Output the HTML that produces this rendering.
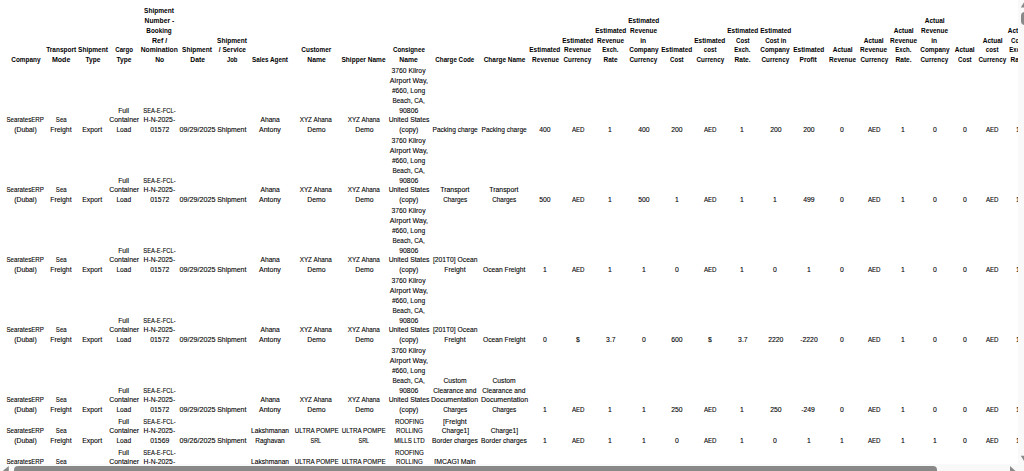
<!DOCTYPE html>
<html><head><meta charset="utf-8"><style>
html,body{margin:0;padding:0;background:#fff;width:1024px;height:471px;overflow:hidden}
body{position:relative;font-family:"Liberation Sans",sans-serif;color:#000}
#t{position:absolute;left:0;top:0;width:1018px;height:464px;overflow:hidden}
.r,.b{position:absolute;width:100px;text-align:center;white-space:nowrap;font-size:7px;line-height:9.82px}
.b{font-weight:bold}
.r{-webkit-text-stroke:0.1px #000}
.r span,.b span{display:inline-block}
#vs{position:absolute;left:1018px;top:0;width:6px;height:464px;background:#f9f9f9}
#hs{position:absolute;left:0;top:464px;width:1018px;height:7px;background:#f9f9f9}
#corner{position:absolute;left:1018px;top:464px;width:6px;height:7px;background:#f9f9f9}
#vth{position:absolute;left:1021px;top:12px;width:8px;height:12.6px;border-radius:4px;background:#898989}
#hth{position:absolute;left:14px;top:466.3px;width:923px;height:8px;border-radius:4px;background:#898989}
</style></head><body>
<div id="t">
<div class="b" style="left:-24.4px;top:55.20px"><span style="transform:scaleX(0.918)">Company</span></div>
<div class="b" style="left:10.9px;top:45.38px"><span style="transform:scaleX(0.925)">Transport</span><br><span style="transform:scaleX(1.006)">Mode</span></div>
<div class="b" style="left:42.5px;top:45.38px"><span style="transform:scaleX(0.937)">Shipment</span><br><span style="transform:scaleX(0.938)">Type</span></div>
<div class="b" style="left:74.0px;top:45.38px"><span style="transform:scaleX(0.878)">Cargo</span><br><span style="transform:scaleX(0.938)">Type</span></div>
<div class="b" style="left:109.3px;top:6.10px"><span style="transform:scaleX(0.937)">Shipment</span><br><span style="transform:scaleX(0.961)">Number -</span><br><span style="transform:scaleX(0.903)">Booking</span><br><span style="transform:scaleX(0.997)">Ref /</span><br><span style="transform:scaleX(0.962)">Nomination</span><br><span style="transform:scaleX(0.962)">No</span></div>
<div class="b" style="left:147.3px;top:45.38px"><span style="transform:scaleX(0.937)">Shipment</span><br><span style="transform:scaleX(0.965)">Date</span></div>
<div class="b" style="left:182.1px;top:35.56px"><span style="transform:scaleX(0.937)">Shipment</span><br><span style="transform:scaleX(0.947)">/ Service</span><br><span style="transform:scaleX(0.847)">Job</span></div>
<div class="b" style="left:220.0px;top:55.20px"><span style="transform:scaleX(0.902)">Sales Agent</span></div>
<div class="b" style="left:266.2px;top:45.38px"><span style="transform:scaleX(0.918)">Customer</span><br><span style="transform:scaleX(0.971)">Name</span></div>
<div class="b" style="left:314.0px;top:55.20px"><span style="transform:scaleX(0.937)">Shipper Name</span></div>
<div class="b" style="left:359.0px;top:45.38px"><span style="transform:scaleX(0.894)">Consignee</span><br><span style="transform:scaleX(0.971)">Name</span></div>
<div class="b" style="left:405.0px;top:55.20px"><span style="transform:scaleX(0.896)">Charge Code</span></div>
<div class="b" style="left:454.2px;top:55.20px"><span style="transform:scaleX(0.925)">Charge Name</span></div>
<div class="b" style="left:495.1px;top:45.38px"><span style="transform:scaleX(0.926)">Estimated</span><br><span style="transform:scaleX(0.923)">Revenue</span></div>
<div class="b" style="left:527.8px;top:35.56px"><span style="transform:scaleX(0.926)">Estimated</span><br><span style="transform:scaleX(0.923)">Revenue</span><br><span style="transform:scaleX(0.902)">Currency</span></div>
<div class="b" style="left:560.4px;top:25.74px"><span style="transform:scaleX(0.926)">Estimated</span><br><span style="transform:scaleX(0.923)">Revenue</span><br><span style="transform:scaleX(0.862)">Exch.</span><br><span style="transform:scaleX(0.931)">Rate</span></div>
<div class="b" style="left:593.6px;top:15.92px"><span style="transform:scaleX(0.926)">Estimated</span><br><span style="transform:scaleX(0.923)">Revenue</span><br><span style="transform:scaleX(0.942)">in</span><br><span style="transform:scaleX(0.918)">Company</span><br><span style="transform:scaleX(0.902)">Currency</span></div>
<div class="b" style="left:627.1px;top:45.38px"><span style="transform:scaleX(0.926)">Estimated</span><br><span style="transform:scaleX(0.868)">Cost</span></div>
<div class="b" style="left:659.9px;top:35.56px"><span style="transform:scaleX(0.926)">Estimated</span><br><span style="transform:scaleX(0.879)">cost</span><br><span style="transform:scaleX(0.902)">Currency</span></div>
<div class="b" style="left:692.4px;top:25.74px"><span style="transform:scaleX(0.926)">Estimated</span><br><span style="transform:scaleX(0.868)">Cost</span><br><span style="transform:scaleX(0.862)">Exch.</span><br><span style="transform:scaleX(0.943)">Rate.</span></div>
<div class="b" style="left:725.4px;top:25.74px"><span style="transform:scaleX(0.926)">Estimated</span><br><span style="transform:scaleX(0.888)">Cost in</span><br><span style="transform:scaleX(0.918)">Company</span><br><span style="transform:scaleX(0.902)">Currency</span></div>
<div class="b" style="left:758.5px;top:45.38px"><span style="transform:scaleX(0.926)">Estimated</span><br><span style="transform:scaleX(0.950)">Profit</span></div>
<div class="b" style="left:792.4px;top:45.38px"><span style="transform:scaleX(0.928)">Actual</span><br><span style="transform:scaleX(0.923)">Revenue</span></div>
<div class="b" style="left:824.0px;top:35.56px"><span style="transform:scaleX(0.928)">Actual</span><br><span style="transform:scaleX(0.923)">Revenue</span><br><span style="transform:scaleX(0.902)">Currency</span></div>
<div class="b" style="left:853.3px;top:25.74px"><span style="transform:scaleX(0.928)">Actual</span><br><span style="transform:scaleX(0.923)">Revenue</span><br><span style="transform:scaleX(0.862)">Exch.</span><br><span style="transform:scaleX(0.943)">Rate.</span></div>
<div class="b" style="left:884.5px;top:15.92px"><span style="transform:scaleX(0.928)">Actual</span><br><span style="transform:scaleX(0.923)">Revenue</span><br><span style="transform:scaleX(0.942)">in</span><br><span style="transform:scaleX(0.918)">Company</span><br><span style="transform:scaleX(0.902)">Currency</span></div>
<div class="b" style="left:914.7px;top:45.38px"><span style="transform:scaleX(0.928)">Actual</span><br><span style="transform:scaleX(0.868)">Cost</span></div>
<div class="b" style="left:942.5px;top:35.56px"><span style="transform:scaleX(0.928)">Actual</span><br><span style="transform:scaleX(0.879)">cost</span><br><span style="transform:scaleX(0.902)">Currency</span></div>
<div class="b" style="left:967.8px;top:25.74px"><span style="transform:scaleX(0.928)">Actual</span><br><span style="transform:scaleX(0.868)">Cost</span><br><span style="transform:scaleX(0.862)">Exch.</span><br><span style="transform:scaleX(0.931)">Rate</span></div>
<div class="r" style="left:-24.4px;top:115.38px"><span style="transform:scaleX(0.883)">SearatesERP</span><br><span style="transform:scaleX(0.974)">(Dubai)</span></div>
<div class="r" style="left:10.9px;top:115.38px"><span style="transform:scaleX(0.865)">Sea</span><br><span style="transform:scaleX(0.978)">Freight</span></div>
<div class="r" style="left:42.5px;top:125.20px"><span style="transform:scaleX(0.985)">Export</span></div>
<div class="r" style="left:74.0px;top:105.56px"><span style="transform:scaleX(0.961)">Full</span><br><span style="transform:scaleX(0.984)">Container</span><br><span style="transform:scaleX(0.941)">Load</span></div>
<div class="r" style="left:109.3px;top:105.56px"><span style="transform:scaleX(0.830)">SEA-E-FCL-</span><br><span style="transform:scaleX(0.967)">H-N-2025-</span><br><span style="transform:scaleX(0.977)">01572</span></div>
<div class="r" style="left:147.3px;top:125.20px"><span style="transform:scaleX(1.033)">09/29/2025</span></div>
<div class="r" style="left:182.1px;top:125.20px"><span style="transform:scaleX(0.986)">Shipment</span></div>
<div class="r" style="left:220.0px;top:115.38px"><span style="transform:scaleX(0.958)">Ahana</span><br><span style="transform:scaleX(1.001)">Antony</span></div>
<div class="r" style="left:266.2px;top:115.38px"><span style="transform:scaleX(0.907)">XYZ Ahana</span><br><span style="transform:scaleX(0.979)">Demo</span></div>
<div class="r" style="left:314.0px;top:115.38px"><span style="transform:scaleX(0.907)">XYZ Ahana</span><br><span style="transform:scaleX(0.979)">Demo</span></div>
<div class="r" style="left:359.0px;top:66.28px"><span style="transform:scaleX(0.972)">3760 Kilroy</span><br><span style="transform:scaleX(1.007)">Airport Way,</span><br><span style="transform:scaleX(0.950)">#660, Long</span><br><span style="transform:scaleX(0.914)">Beach, CA,</span><br><span style="transform:scaleX(0.977)">90806</span><br><span style="transform:scaleX(0.970)">United States</span><br><span style="transform:scaleX(0.973)">(copy)</span></div>
<div class="r" style="left:405.0px;top:125.20px"><span style="transform:scaleX(0.937)">Packing charge</span></div>
<div class="r" style="left:454.2px;top:125.20px"><span style="transform:scaleX(0.937)">Packing charge</span></div>
<div class="r" style="left:495.1px;top:125.20px"><span style="transform:scaleX(0.976)">400</span></div>
<div class="r" style="left:527.8px;top:125.20px"><span style="transform:scaleX(0.876)">AED</span></div>
<div class="r" style="left:560.4px;top:125.20px"><span style="transform:scaleX(0.976)">1</span></div>
<div class="r" style="left:593.6px;top:125.20px"><span style="transform:scaleX(0.976)">400</span></div>
<div class="r" style="left:627.1px;top:125.20px"><span style="transform:scaleX(0.976)">200</span></div>
<div class="r" style="left:659.9px;top:125.20px"><span style="transform:scaleX(0.876)">AED</span></div>
<div class="r" style="left:692.4px;top:125.20px"><span style="transform:scaleX(0.976)">1</span></div>
<div class="r" style="left:725.4px;top:125.20px"><span style="transform:scaleX(0.976)">200</span></div>
<div class="r" style="left:758.5px;top:125.20px"><span style="transform:scaleX(0.976)">200</span></div>
<div class="r" style="left:792.4px;top:125.20px"><span style="transform:scaleX(0.976)">0</span></div>
<div class="r" style="left:824.0px;top:125.20px"><span style="transform:scaleX(0.876)">AED</span></div>
<div class="r" style="left:853.3px;top:125.20px"><span style="transform:scaleX(0.976)">1</span></div>
<div class="r" style="left:884.5px;top:125.20px"><span style="transform:scaleX(0.976)">0</span></div>
<div class="r" style="left:914.7px;top:125.20px"><span style="transform:scaleX(0.976)">0</span></div>
<div class="r" style="left:942.5px;top:125.20px"><span style="transform:scaleX(0.876)">AED</span></div>
<div class="r" style="left:967.8px;top:125.20px"><span style="transform:scaleX(0.976)">1</span></div>
<div class="r" style="left:-24.4px;top:185.38px"><span style="transform:scaleX(0.883)">SearatesERP</span><br><span style="transform:scaleX(0.974)">(Dubai)</span></div>
<div class="r" style="left:10.9px;top:185.38px"><span style="transform:scaleX(0.865)">Sea</span><br><span style="transform:scaleX(0.978)">Freight</span></div>
<div class="r" style="left:42.5px;top:195.20px"><span style="transform:scaleX(0.985)">Export</span></div>
<div class="r" style="left:74.0px;top:175.56px"><span style="transform:scaleX(0.961)">Full</span><br><span style="transform:scaleX(0.984)">Container</span><br><span style="transform:scaleX(0.941)">Load</span></div>
<div class="r" style="left:109.3px;top:175.56px"><span style="transform:scaleX(0.830)">SEA-E-FCL-</span><br><span style="transform:scaleX(0.967)">H-N-2025-</span><br><span style="transform:scaleX(0.977)">01572</span></div>
<div class="r" style="left:147.3px;top:195.20px"><span style="transform:scaleX(1.033)">09/29/2025</span></div>
<div class="r" style="left:182.1px;top:195.20px"><span style="transform:scaleX(0.986)">Shipment</span></div>
<div class="r" style="left:220.0px;top:185.38px"><span style="transform:scaleX(0.958)">Ahana</span><br><span style="transform:scaleX(1.001)">Antony</span></div>
<div class="r" style="left:266.2px;top:185.38px"><span style="transform:scaleX(0.907)">XYZ Ahana</span><br><span style="transform:scaleX(0.979)">Demo</span></div>
<div class="r" style="left:314.0px;top:185.38px"><span style="transform:scaleX(0.907)">XYZ Ahana</span><br><span style="transform:scaleX(0.979)">Demo</span></div>
<div class="r" style="left:359.0px;top:136.28px"><span style="transform:scaleX(0.972)">3760 Kilroy</span><br><span style="transform:scaleX(1.007)">Airport Way,</span><br><span style="transform:scaleX(0.950)">#660, Long</span><br><span style="transform:scaleX(0.914)">Beach, CA,</span><br><span style="transform:scaleX(0.977)">90806</span><br><span style="transform:scaleX(0.970)">United States</span><br><span style="transform:scaleX(0.973)">(copy)</span></div>
<div class="r" style="left:405.0px;top:185.38px"><span style="transform:scaleX(0.981)">Transport</span><br><span style="transform:scaleX(0.914)">Charges</span></div>
<div class="r" style="left:454.2px;top:185.38px"><span style="transform:scaleX(0.981)">Transport</span><br><span style="transform:scaleX(0.914)">Charges</span></div>
<div class="r" style="left:495.1px;top:195.20px"><span style="transform:scaleX(0.976)">500</span></div>
<div class="r" style="left:527.8px;top:195.20px"><span style="transform:scaleX(0.876)">AED</span></div>
<div class="r" style="left:560.4px;top:195.20px"><span style="transform:scaleX(0.976)">1</span></div>
<div class="r" style="left:593.6px;top:195.20px"><span style="transform:scaleX(0.976)">500</span></div>
<div class="r" style="left:627.1px;top:195.20px"><span style="transform:scaleX(0.976)">1</span></div>
<div class="r" style="left:659.9px;top:195.20px"><span style="transform:scaleX(0.876)">AED</span></div>
<div class="r" style="left:692.4px;top:195.20px"><span style="transform:scaleX(0.976)">1</span></div>
<div class="r" style="left:725.4px;top:195.20px"><span style="transform:scaleX(0.976)">1</span></div>
<div class="r" style="left:758.5px;top:195.20px"><span style="transform:scaleX(0.976)">499</span></div>
<div class="r" style="left:792.4px;top:195.20px"><span style="transform:scaleX(0.976)">0</span></div>
<div class="r" style="left:824.0px;top:195.20px"><span style="transform:scaleX(0.876)">AED</span></div>
<div class="r" style="left:853.3px;top:195.20px"><span style="transform:scaleX(0.976)">1</span></div>
<div class="r" style="left:884.5px;top:195.20px"><span style="transform:scaleX(0.976)">0</span></div>
<div class="r" style="left:914.7px;top:195.20px"><span style="transform:scaleX(0.976)">0</span></div>
<div class="r" style="left:942.5px;top:195.20px"><span style="transform:scaleX(0.876)">AED</span></div>
<div class="r" style="left:967.8px;top:195.20px"><span style="transform:scaleX(0.976)">1</span></div>
<div class="r" style="left:-24.4px;top:255.38px"><span style="transform:scaleX(0.883)">SearatesERP</span><br><span style="transform:scaleX(0.974)">(Dubai)</span></div>
<div class="r" style="left:10.9px;top:255.38px"><span style="transform:scaleX(0.865)">Sea</span><br><span style="transform:scaleX(0.978)">Freight</span></div>
<div class="r" style="left:42.5px;top:265.20px"><span style="transform:scaleX(0.985)">Export</span></div>
<div class="r" style="left:74.0px;top:245.56px"><span style="transform:scaleX(0.961)">Full</span><br><span style="transform:scaleX(0.984)">Container</span><br><span style="transform:scaleX(0.941)">Load</span></div>
<div class="r" style="left:109.3px;top:245.56px"><span style="transform:scaleX(0.830)">SEA-E-FCL-</span><br><span style="transform:scaleX(0.967)">H-N-2025-</span><br><span style="transform:scaleX(0.977)">01572</span></div>
<div class="r" style="left:147.3px;top:265.20px"><span style="transform:scaleX(1.033)">09/29/2025</span></div>
<div class="r" style="left:182.1px;top:265.20px"><span style="transform:scaleX(0.986)">Shipment</span></div>
<div class="r" style="left:220.0px;top:255.38px"><span style="transform:scaleX(0.958)">Ahana</span><br><span style="transform:scaleX(1.001)">Antony</span></div>
<div class="r" style="left:266.2px;top:255.38px"><span style="transform:scaleX(0.907)">XYZ Ahana</span><br><span style="transform:scaleX(0.979)">Demo</span></div>
<div class="r" style="left:314.0px;top:255.38px"><span style="transform:scaleX(0.907)">XYZ Ahana</span><br><span style="transform:scaleX(0.979)">Demo</span></div>
<div class="r" style="left:359.0px;top:206.28px"><span style="transform:scaleX(0.972)">3760 Kilroy</span><br><span style="transform:scaleX(1.007)">Airport Way,</span><br><span style="transform:scaleX(0.950)">#660, Long</span><br><span style="transform:scaleX(0.914)">Beach, CA,</span><br><span style="transform:scaleX(0.977)">90806</span><br><span style="transform:scaleX(0.970)">United States</span><br><span style="transform:scaleX(0.973)">(copy)</span></div>
<div class="r" style="left:405.0px;top:255.38px"><span style="transform:scaleX(0.962)">[201T0] Ocean</span><br><span style="transform:scaleX(0.978)">Freight</span></div>
<div class="r" style="left:454.2px;top:265.20px"><span style="transform:scaleX(0.957)">Ocean Freight</span></div>
<div class="r" style="left:495.1px;top:265.20px"><span style="transform:scaleX(0.976)">1</span></div>
<div class="r" style="left:527.8px;top:265.20px"><span style="transform:scaleX(0.876)">AED</span></div>
<div class="r" style="left:560.4px;top:265.20px"><span style="transform:scaleX(0.976)">1</span></div>
<div class="r" style="left:593.6px;top:265.20px"><span style="transform:scaleX(0.976)">1</span></div>
<div class="r" style="left:627.1px;top:265.20px"><span style="transform:scaleX(0.976)">0</span></div>
<div class="r" style="left:659.9px;top:265.20px"><span style="transform:scaleX(0.876)">AED</span></div>
<div class="r" style="left:692.4px;top:265.20px"><span style="transform:scaleX(0.976)">1</span></div>
<div class="r" style="left:725.4px;top:265.20px"><span style="transform:scaleX(0.976)">0</span></div>
<div class="r" style="left:758.5px;top:265.20px"><span style="transform:scaleX(0.976)">1</span></div>
<div class="r" style="left:792.4px;top:265.20px"><span style="transform:scaleX(0.976)">0</span></div>
<div class="r" style="left:824.0px;top:265.20px"><span style="transform:scaleX(0.876)">AED</span></div>
<div class="r" style="left:853.3px;top:265.20px"><span style="transform:scaleX(0.976)">1</span></div>
<div class="r" style="left:884.5px;top:265.20px"><span style="transform:scaleX(0.976)">0</span></div>
<div class="r" style="left:914.7px;top:265.20px"><span style="transform:scaleX(0.976)">0</span></div>
<div class="r" style="left:942.5px;top:265.20px"><span style="transform:scaleX(0.876)">AED</span></div>
<div class="r" style="left:967.8px;top:265.20px"><span style="transform:scaleX(0.976)">1</span></div>
<div class="r" style="left:-24.4px;top:325.38px"><span style="transform:scaleX(0.883)">SearatesERP</span><br><span style="transform:scaleX(0.974)">(Dubai)</span></div>
<div class="r" style="left:10.9px;top:325.38px"><span style="transform:scaleX(0.865)">Sea</span><br><span style="transform:scaleX(0.978)">Freight</span></div>
<div class="r" style="left:42.5px;top:335.20px"><span style="transform:scaleX(0.985)">Export</span></div>
<div class="r" style="left:74.0px;top:315.56px"><span style="transform:scaleX(0.961)">Full</span><br><span style="transform:scaleX(0.984)">Container</span><br><span style="transform:scaleX(0.941)">Load</span></div>
<div class="r" style="left:109.3px;top:315.56px"><span style="transform:scaleX(0.830)">SEA-E-FCL-</span><br><span style="transform:scaleX(0.967)">H-N-2025-</span><br><span style="transform:scaleX(0.977)">01572</span></div>
<div class="r" style="left:147.3px;top:335.20px"><span style="transform:scaleX(1.033)">09/29/2025</span></div>
<div class="r" style="left:182.1px;top:335.20px"><span style="transform:scaleX(0.986)">Shipment</span></div>
<div class="r" style="left:220.0px;top:325.38px"><span style="transform:scaleX(0.958)">Ahana</span><br><span style="transform:scaleX(1.001)">Antony</span></div>
<div class="r" style="left:266.2px;top:325.38px"><span style="transform:scaleX(0.907)">XYZ Ahana</span><br><span style="transform:scaleX(0.979)">Demo</span></div>
<div class="r" style="left:314.0px;top:325.38px"><span style="transform:scaleX(0.907)">XYZ Ahana</span><br><span style="transform:scaleX(0.979)">Demo</span></div>
<div class="r" style="left:359.0px;top:276.28px"><span style="transform:scaleX(0.972)">3760 Kilroy</span><br><span style="transform:scaleX(1.007)">Airport Way,</span><br><span style="transform:scaleX(0.950)">#660, Long</span><br><span style="transform:scaleX(0.914)">Beach, CA,</span><br><span style="transform:scaleX(0.977)">90806</span><br><span style="transform:scaleX(0.970)">United States</span><br><span style="transform:scaleX(0.973)">(copy)</span></div>
<div class="r" style="left:405.0px;top:325.38px"><span style="transform:scaleX(0.962)">[201T0] Ocean</span><br><span style="transform:scaleX(0.978)">Freight</span></div>
<div class="r" style="left:454.2px;top:335.20px"><span style="transform:scaleX(0.957)">Ocean Freight</span></div>
<div class="r" style="left:495.1px;top:335.20px"><span style="transform:scaleX(0.976)">0</span></div>
<div class="r" style="left:527.8px;top:335.20px"><span style="transform:scaleX(0.976)">$</span></div>
<div class="r" style="left:560.4px;top:335.20px"><span style="transform:scaleX(0.976)">3.7</span></div>
<div class="r" style="left:593.6px;top:335.20px"><span style="transform:scaleX(0.976)">0</span></div>
<div class="r" style="left:627.1px;top:335.20px"><span style="transform:scaleX(0.976)">600</span></div>
<div class="r" style="left:659.9px;top:335.20px"><span style="transform:scaleX(0.976)">$</span></div>
<div class="r" style="left:692.4px;top:335.20px"><span style="transform:scaleX(0.976)">3.7</span></div>
<div class="r" style="left:725.4px;top:335.20px"><span style="transform:scaleX(0.977)">2220</span></div>
<div class="r" style="left:758.5px;top:335.20px"><span style="transform:scaleX(0.978)">-2220</span></div>
<div class="r" style="left:792.4px;top:335.20px"><span style="transform:scaleX(0.976)">0</span></div>
<div class="r" style="left:824.0px;top:335.20px"><span style="transform:scaleX(0.876)">AED</span></div>
<div class="r" style="left:853.3px;top:335.20px"><span style="transform:scaleX(0.976)">1</span></div>
<div class="r" style="left:884.5px;top:335.20px"><span style="transform:scaleX(0.976)">0</span></div>
<div class="r" style="left:914.7px;top:335.20px"><span style="transform:scaleX(0.976)">0</span></div>
<div class="r" style="left:942.5px;top:335.20px"><span style="transform:scaleX(0.876)">AED</span></div>
<div class="r" style="left:967.8px;top:335.20px"><span style="transform:scaleX(0.976)">1</span></div>
<div class="r" style="left:-24.4px;top:395.48px"><span style="transform:scaleX(0.883)">SearatesERP</span><br><span style="transform:scaleX(0.974)">(Dubai)</span></div>
<div class="r" style="left:10.9px;top:395.48px"><span style="transform:scaleX(0.865)">Sea</span><br><span style="transform:scaleX(0.978)">Freight</span></div>
<div class="r" style="left:42.5px;top:405.30px"><span style="transform:scaleX(0.985)">Export</span></div>
<div class="r" style="left:74.0px;top:385.66px"><span style="transform:scaleX(0.961)">Full</span><br><span style="transform:scaleX(0.984)">Container</span><br><span style="transform:scaleX(0.941)">Load</span></div>
<div class="r" style="left:109.3px;top:385.66px"><span style="transform:scaleX(0.830)">SEA-E-FCL-</span><br><span style="transform:scaleX(0.967)">H-N-2025-</span><br><span style="transform:scaleX(0.977)">01572</span></div>
<div class="r" style="left:147.3px;top:405.30px"><span style="transform:scaleX(1.033)">09/29/2025</span></div>
<div class="r" style="left:182.1px;top:405.30px"><span style="transform:scaleX(0.986)">Shipment</span></div>
<div class="r" style="left:220.0px;top:395.48px"><span style="transform:scaleX(0.958)">Ahana</span><br><span style="transform:scaleX(1.001)">Antony</span></div>
<div class="r" style="left:266.2px;top:395.48px"><span style="transform:scaleX(0.907)">XYZ Ahana</span><br><span style="transform:scaleX(0.979)">Demo</span></div>
<div class="r" style="left:314.0px;top:395.48px"><span style="transform:scaleX(0.907)">XYZ Ahana</span><br><span style="transform:scaleX(0.979)">Demo</span></div>
<div class="r" style="left:359.0px;top:346.38px"><span style="transform:scaleX(0.972)">3760 Kilroy</span><br><span style="transform:scaleX(1.007)">Airport Way,</span><br><span style="transform:scaleX(0.950)">#660, Long</span><br><span style="transform:scaleX(0.914)">Beach, CA,</span><br><span style="transform:scaleX(0.977)">90806</span><br><span style="transform:scaleX(0.970)">United States</span><br><span style="transform:scaleX(0.973)">(copy)</span></div>
<div class="r" style="left:405.0px;top:375.84px"><span style="transform:scaleX(0.961)">Custom</span><br><span style="transform:scaleX(0.947)">Clearance and</span><br><span style="transform:scaleX(1.004)">Documentation</span><br><span style="transform:scaleX(0.914)">Charges</span></div>
<div class="r" style="left:454.2px;top:375.84px"><span style="transform:scaleX(0.961)">Custom</span><br><span style="transform:scaleX(0.947)">Clearance and</span><br><span style="transform:scaleX(1.004)">Documentation</span><br><span style="transform:scaleX(0.914)">Charges</span></div>
<div class="r" style="left:495.1px;top:405.30px"><span style="transform:scaleX(0.976)">1</span></div>
<div class="r" style="left:527.8px;top:405.30px"><span style="transform:scaleX(0.876)">AED</span></div>
<div class="r" style="left:560.4px;top:405.30px"><span style="transform:scaleX(0.976)">1</span></div>
<div class="r" style="left:593.6px;top:405.30px"><span style="transform:scaleX(0.976)">1</span></div>
<div class="r" style="left:627.1px;top:405.30px"><span style="transform:scaleX(0.976)">250</span></div>
<div class="r" style="left:659.9px;top:405.30px"><span style="transform:scaleX(0.876)">AED</span></div>
<div class="r" style="left:692.4px;top:405.30px"><span style="transform:scaleX(0.976)">1</span></div>
<div class="r" style="left:725.4px;top:405.30px"><span style="transform:scaleX(0.976)">250</span></div>
<div class="r" style="left:758.5px;top:405.30px"><span style="transform:scaleX(0.978)">-249</span></div>
<div class="r" style="left:792.4px;top:405.30px"><span style="transform:scaleX(0.976)">0</span></div>
<div class="r" style="left:824.0px;top:405.30px"><span style="transform:scaleX(0.876)">AED</span></div>
<div class="r" style="left:853.3px;top:405.30px"><span style="transform:scaleX(0.976)">1</span></div>
<div class="r" style="left:884.5px;top:405.30px"><span style="transform:scaleX(0.976)">0</span></div>
<div class="r" style="left:914.7px;top:405.30px"><span style="transform:scaleX(0.976)">0</span></div>
<div class="r" style="left:942.5px;top:405.30px"><span style="transform:scaleX(0.876)">AED</span></div>
<div class="r" style="left:967.8px;top:405.30px"><span style="transform:scaleX(0.976)">1</span></div>
<div class="r" style="left:-24.4px;top:426.48px"><span style="transform:scaleX(0.883)">SearatesERP</span><br><span style="transform:scaleX(0.974)">(Dubai)</span></div>
<div class="r" style="left:10.9px;top:426.48px"><span style="transform:scaleX(0.865)">Sea</span><br><span style="transform:scaleX(0.978)">Freight</span></div>
<div class="r" style="left:42.5px;top:436.30px"><span style="transform:scaleX(0.985)">Export</span></div>
<div class="r" style="left:74.0px;top:416.66px"><span style="transform:scaleX(0.961)">Full</span><br><span style="transform:scaleX(0.984)">Container</span><br><span style="transform:scaleX(0.941)">Load</span></div>
<div class="r" style="left:109.3px;top:416.66px"><span style="transform:scaleX(0.830)">SEA-E-FCL-</span><br><span style="transform:scaleX(0.967)">H-N-2025-</span><br><span style="transform:scaleX(0.977)">01569</span></div>
<div class="r" style="left:147.3px;top:436.30px"><span style="transform:scaleX(1.033)">09/26/2025</span></div>
<div class="r" style="left:182.1px;top:436.30px"><span style="transform:scaleX(0.986)">Shipment</span></div>
<div class="r" style="left:220.0px;top:426.48px"><span style="transform:scaleX(0.949)">Lakshmanan</span><br><span style="transform:scaleX(0.922)">Raghavan</span></div>
<div class="r" style="left:266.2px;top:426.48px"><span style="transform:scaleX(0.892)">ULTRA POMPE</span><br><span style="transform:scaleX(0.783)">SRL</span></div>
<div class="r" style="left:314.0px;top:426.48px"><span style="transform:scaleX(0.892)">ULTRA POMPE</span><br><span style="transform:scaleX(0.783)">SRL</span></div>
<div class="r" style="left:359.0px;top:416.66px"><span style="transform:scaleX(0.883)">ROOFING</span><br><span style="transform:scaleX(0.870)">ROLLING</span><br><span style="transform:scaleX(0.878)">MILLS LTD</span></div>
<div class="r" style="left:405.0px;top:416.66px"><span style="transform:scaleX(0.996)">[Freight</span><br><span style="transform:scaleX(0.950)">Charge1]</span><br><span style="transform:scaleX(0.959)">Border charges</span></div>
<div class="r" style="left:454.2px;top:426.48px"><span style="transform:scaleX(0.950)">Charge1]</span><br><span style="transform:scaleX(0.959)">Border charges</span></div>
<div class="r" style="left:495.1px;top:436.30px"><span style="transform:scaleX(0.976)">1</span></div>
<div class="r" style="left:527.8px;top:436.30px"><span style="transform:scaleX(0.876)">AED</span></div>
<div class="r" style="left:560.4px;top:436.30px"><span style="transform:scaleX(0.976)">1</span></div>
<div class="r" style="left:593.6px;top:436.30px"><span style="transform:scaleX(0.976)">1</span></div>
<div class="r" style="left:627.1px;top:436.30px"><span style="transform:scaleX(0.976)">0</span></div>
<div class="r" style="left:659.9px;top:436.30px"><span style="transform:scaleX(0.876)">AED</span></div>
<div class="r" style="left:692.4px;top:436.30px"><span style="transform:scaleX(0.976)">1</span></div>
<div class="r" style="left:725.4px;top:436.30px"><span style="transform:scaleX(0.976)">0</span></div>
<div class="r" style="left:758.5px;top:436.30px"><span style="transform:scaleX(0.976)">1</span></div>
<div class="r" style="left:792.4px;top:436.30px"><span style="transform:scaleX(0.976)">1</span></div>
<div class="r" style="left:824.0px;top:436.30px"><span style="transform:scaleX(0.876)">AED</span></div>
<div class="r" style="left:853.3px;top:436.30px"><span style="transform:scaleX(0.976)">1</span></div>
<div class="r" style="left:884.5px;top:436.30px"><span style="transform:scaleX(0.976)">1</span></div>
<div class="r" style="left:914.7px;top:436.30px"><span style="transform:scaleX(0.976)">0</span></div>
<div class="r" style="left:942.5px;top:436.30px"><span style="transform:scaleX(0.876)">AED</span></div>
<div class="r" style="left:967.8px;top:436.30px"><span style="transform:scaleX(0.976)">1</span></div>
<div class="r" style="left:-24.4px;top:457.48px"><span style="transform:scaleX(0.883)">SearatesERP</span><br><span style="transform:scaleX(0.974)">(Dubai)</span></div>
<div class="r" style="left:10.9px;top:457.48px"><span style="transform:scaleX(0.865)">Sea</span><br><span style="transform:scaleX(0.978)">Freight</span></div>
<div class="r" style="left:42.5px;top:467.30px"><span style="transform:scaleX(0.985)">Export</span></div>
<div class="r" style="left:74.0px;top:447.66px"><span style="transform:scaleX(0.961)">Full</span><br><span style="transform:scaleX(0.984)">Container</span><br><span style="transform:scaleX(0.941)">Load</span></div>
<div class="r" style="left:109.3px;top:447.66px"><span style="transform:scaleX(0.830)">SEA-E-FCL-</span><br><span style="transform:scaleX(0.967)">H-N-2025-</span><br><span style="transform:scaleX(0.977)">01566</span></div>
<div class="r" style="left:147.3px;top:467.30px"><span style="transform:scaleX(1.033)">09/26/2025</span></div>
<div class="r" style="left:182.1px;top:467.30px"><span style="transform:scaleX(0.986)">Shipment</span></div>
<div class="r" style="left:220.0px;top:457.48px"><span style="transform:scaleX(0.949)">Lakshmanan</span><br><span style="transform:scaleX(0.922)">Raghavan</span></div>
<div class="r" style="left:266.2px;top:457.48px"><span style="transform:scaleX(0.892)">ULTRA POMPE</span><br><span style="transform:scaleX(0.783)">SRL</span></div>
<div class="r" style="left:314.0px;top:457.48px"><span style="transform:scaleX(0.892)">ULTRA POMPE</span><br><span style="transform:scaleX(0.783)">SRL</span></div>
<div class="r" style="left:359.0px;top:447.66px"><span style="transform:scaleX(0.883)">ROOFING</span><br><span style="transform:scaleX(0.870)">ROLLING</span><br><span style="transform:scaleX(0.878)">MILLS LTD</span></div>
<div class="r" style="left:405.0px;top:457.48px"><span style="transform:scaleX(0.985)">[MCAG] Main</span><br><span style="transform:scaleX(0.944)">Carriage</span></div>
<div class="r" style="left:454.2px;top:467.30px"><span style="transform:scaleX(0.971)">Main Carriage</span></div>
<div class="r" style="left:495.1px;top:467.30px"><span style="transform:scaleX(0.976)">1</span></div>
<div class="r" style="left:527.8px;top:467.30px"><span style="transform:scaleX(0.876)">AED</span></div>
<div class="r" style="left:560.4px;top:467.30px"><span style="transform:scaleX(0.976)">1</span></div>
<div class="r" style="left:593.6px;top:467.30px"><span style="transform:scaleX(0.976)">1</span></div>
<div class="r" style="left:627.1px;top:467.30px"><span style="transform:scaleX(0.976)">0</span></div>
<div class="r" style="left:659.9px;top:467.30px"><span style="transform:scaleX(0.876)">AED</span></div>
<div class="r" style="left:692.4px;top:467.30px"><span style="transform:scaleX(0.976)">1</span></div>
<div class="r" style="left:725.4px;top:467.30px"><span style="transform:scaleX(0.976)">0</span></div>
<div class="r" style="left:758.5px;top:467.30px"><span style="transform:scaleX(0.976)">1</span></div>
<div class="r" style="left:792.4px;top:467.30px"><span style="transform:scaleX(0.976)">1</span></div>
<div class="r" style="left:824.0px;top:467.30px"><span style="transform:scaleX(0.876)">AED</span></div>
<div class="r" style="left:853.3px;top:467.30px"><span style="transform:scaleX(0.976)">1</span></div>
<div class="r" style="left:884.5px;top:467.30px"><span style="transform:scaleX(0.976)">1</span></div>
<div class="r" style="left:914.7px;top:467.30px"><span style="transform:scaleX(0.976)">0</span></div>
<div class="r" style="left:942.5px;top:467.30px"><span style="transform:scaleX(0.876)">AED</span></div>
<div class="r" style="left:967.8px;top:467.30px"><span style="transform:scaleX(0.976)">1</span></div>
</div>
<div id="vs"></div>
<div id="hs"></div>
<div id="corner"></div>
<div id="vth"></div>
<div id="hth"></div>
<svg style="position:absolute;left:0;top:0" width="1024" height="471">
<polygon points="1020.8,7.6 1024.6,1.2 1028.4,7.6" fill="#898989"/>
<polygon points="1020.8,455.8 1029,455.8 1024.9,462.4" fill="#898989"/>
<polygon points="8.8,465.9 3.2,470.6 8.8,476" fill="#898989"/>
<polygon points="1010,466 1015.5,471 1010,476" fill="#898989"/>
</svg>
</body></html>
